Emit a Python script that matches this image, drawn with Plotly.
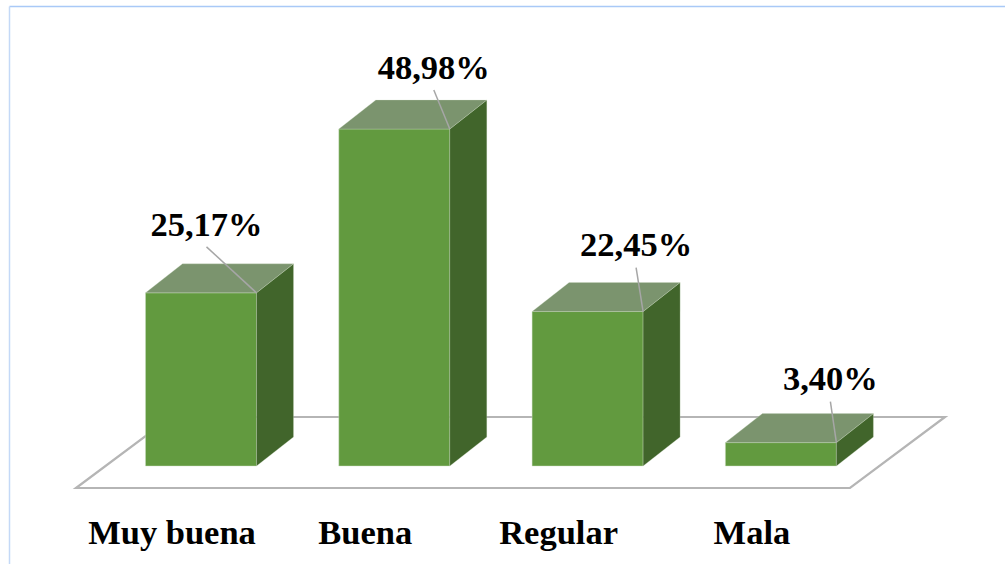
import plotly.graph_objects as go

categories = ["Muy buena", "Buena", "Regular", "Mala"]
values = [25.17, 48.98, 22.45, 3.40]
value_labels = ["25,17%", "48,98%", "22,45%", "3,40%"]

W, H = 1005, 564
PLOT_BOTTOM = 500          # pixel row of the bottom of the plot area
BASE_PX = 466              # pixel row of value 0
PX_PER_VALUE = 6.88
PX_PER_CAT = 193.3
FIRST_CENTER_PX = 201.0

def dx(px):
    return px / PX_PER_CAT

def dy(px):
    return px / PX_PER_VALUE

BAR_W = dx(111)
DEPTH_X = dx(37)
DEPTH_Y = dy(29)
LABEL_SHIFT = dx(-29)
LABEL_GAP = dy(2.5)

FRONT, SIDE, TOP = "#629a3f", "#41652b", "#7b946e"
EDGE = "rgba(205,222,195,0.45)"
FONT = "Liberation Serif"

# leader line end relative to the bar's front top right corner (pixels)
leader_dx = [-50, -16, -7, -6]
leader_dy = [46, 39, 44, 41]

xs = list(range(len(categories)))
fig = go.Figure()

# front faces
fig.add_trace(go.Bar(x=xs, y=values, width=BAR_W, marker=dict(color=FRONT, line=dict(color=EDGE, width=1)),
                     showlegend=False, hoverinfo="skip"))

# side and top faces, leaders, labels
for x, v, lab, ldx, ldy in zip(xs, values, value_labels, leader_dx, leader_dy):
    l, r = x - BAR_W / 2, x + BAR_W / 2
    fig.add_trace(go.Scatter(
        x=[r, r + DEPTH_X, r + DEPTH_X, r, r], y=[0, DEPTH_Y, v + DEPTH_Y, v, 0],
        mode="lines", fill="toself", fillcolor=SIDE, line=dict(color=EDGE, width=0.6),
        showlegend=False, hoverinfo="skip"))
    fig.add_trace(go.Scatter(
        x=[l, r, r + DEPTH_X, l + DEPTH_X, l], y=[v, v, v + DEPTH_Y, v + DEPTH_Y, v],
        mode="lines", fill="toself", fillcolor=TOP, line=dict(color=EDGE, width=0.6),
        showlegend=False, hoverinfo="skip"))
    lx, ly = r + dx(ldx), v + dy(ldy)
    fig.add_trace(go.Scatter(
        x=[r, lx], y=[v, ly], mode="lines", line=dict(color="#a6a6a6", width=1.5),
        showlegend=False, hoverinfo="skip"))
    fig.add_trace(go.Scatter(
        x=[lx], y=[ly + LABEL_GAP], mode="text", text=[lab], textposition="top center",
        textfont=dict(family=FONT, size=34.5, color="black", weight="bold"),
        showlegend=False, hoverinfo="skip"))

# floor
floor_x0 = dx(76 - FIRST_CENTER_PX)
floor_x1 = dx(850 - FIRST_CENTER_PX)
floor_y0, floor_y1 = dy(466 - 488), dy(466 - 417)
floor_dx = dx(95)
border_y = (PLOT_BOTTOM - 6.5) / PLOT_BOTTOM
shapes = [
    dict(type="path", layer="below", xref="x", yref="y",
         path=f"M {floor_x0} {floor_y0} L {floor_x1} {floor_y0} L {floor_x1 + floor_dx} {floor_y1} "
              f"L {floor_x0 + floor_dx} {floor_y1} Z",
         line=dict(color="#b5b5b5", width=2.2), fillcolor="white"),
    dict(type="line", layer="below", xref="paper", yref="paper", x0=9.5 / W, x1=1, y0=border_y, y1=border_y,
         line=dict(color="#a9c9f7", width=1.5)),
    dict(type="line", layer="below", xref="paper", yref="paper", x0=9.5 / W, x1=9.5 / W,
         y0=-(H - PLOT_BOTTOM) / PLOT_BOTTOM, y1=border_y,
         line=dict(color="#c4d9f7", width=1.5)),
]

fig.update_layout(
    width=W, height=H, margin=dict(l=0, r=0, t=0, b=H - PLOT_BOTTOM),
    paper_bgcolor="white", plot_bgcolor="rgba(0,0,0,0)", showlegend=False, shapes=shapes,
    xaxis=dict(range=[dx(-FIRST_CENTER_PX), dx(W - FIRST_CENTER_PX)], showgrid=False, zeroline=False,
               showline=False, tickmode="array", tickvals=[x + LABEL_SHIFT for x in xs], ticktext=categories,
               ticks="outside", ticklen=2, tickcolor="rgba(0,0,0,0)",
               tickfont=dict(family=FONT, size=34.5, color="black", weight="bold"), tickangle=0, fixedrange=True),
    yaxis=dict(range=[dy(BASE_PX - PLOT_BOTTOM), dy(BASE_PX)], visible=False, fixedrange=True),
    font=dict(family=FONT),
)

fig.write_html("out.html", config=dict(displayModeBar=False),
               post_script="document.body.style.margin='0';document.documentElement.style.overflow='hidden';")
